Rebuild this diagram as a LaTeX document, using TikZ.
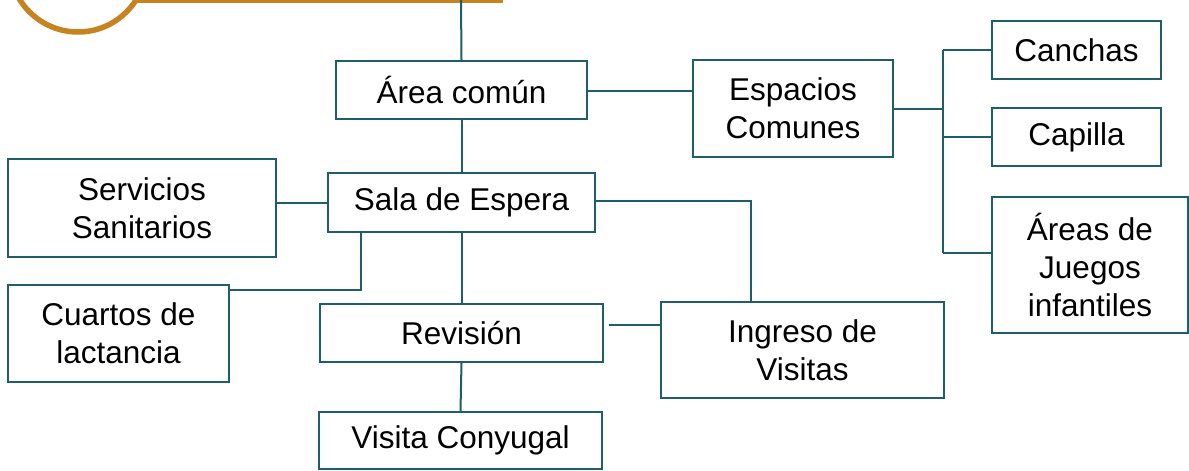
\documentclass[tikz,border=0pt]{standalone}
\usepackage{fontspec}
\setmainfont{Liberation Sans}
\usepackage{xcolor}
\usepackage{tikz}
\usetikzlibrary{positioning, calc}
\definecolor{teal}{HTML}{1D5E68}
\definecolor{ochre}{HTML}{C5841F}

\begin{document}
\begin{tikzpicture}[
  x=1pt, y=-1pt,
  area/.style={rectangle, draw=teal, line width=2pt, align=center, inner sep=0pt, font=\fontsize{31.5}{37.7}\selectfont},
  link/.style={draw=teal, line width=2pt},
  accent/.style={draw=ochre, line width=5.5pt}
]
  \useasboundingbox (0,0) rectangle (1189,471);

  % Top ornament
  \draw[accent] (78,-36.6) circle (68.6);
  \coordinate (top) at (461,0);
  \draw[accent] (136,0.5) -- (503,0.5);

  \node[area, minimum width=251pt, minimum height=58pt] (comun) at (461.5,90) {Área común};
  \node[area, minimum width=200pt, minimum height=97pt] (espacios) at (793,108.5) {Espacios\\Comunes};
  \node[area, minimum width=169pt, minimum height=58pt] (canchas) at (1076.5,50) {Canchas};
  \node[area, minimum width=169pt, minimum height=58pt] (capilla) at (1076.5,137) {Capilla};
  \node[area, minimum width=196pt, minimum height=136pt] (juegos) at (1090,265) {Áreas de\\Juegos\\infantiles};

  \node[area, minimum width=267pt, minimum height=59pt] (sala) at (461.5,202.5) {Sala de Espera};
  \node[area, minimum width=268pt, minimum height=98pt] (servicios) at (142,208) {Servicios\\Sanitarios};
  \node[area, minimum width=221pt, minimum height=97pt] (cuartos) at (118.5,333.5) {Cuartos de\\lactancia};
  \node[area, minimum width=283pt, minimum height=58pt] (revision) at (461.5,333) {Revisión};
  \node[area, minimum width=283pt, minimum height=96pt] (ingreso) at (802.5,350) {Ingreso de\\Visitas};
  \node[area, minimum width=283pt, minimum height=57pt] (conyugal) at (460.5,440.5) {Visita Conyugal};

  \draw[link] (top) -- (comun.north);
  \draw[link] ([yshift=-1pt]comun.east) -- ([yshift=-1pt]comun.east -| espacios.west);

  % Bracket to the right column
  \coordinate (fork) at (943,109);
  \draw[link] (espacios.east |- fork) -- (fork);
  \draw[link] (fork |- canchas.west) -- (fork |- 0,253);
  \draw[link] (fork |- canchas.west) -- (canchas.west);
  \draw[link] (fork |- capilla.west) -- (capilla.west);
  \draw[link] (fork |- 0,253) -- (juegos.west |- 0,253);

  \draw[link] (comun.south) -- (sala.north);
  \draw[link] (sala.west) -- (sala.west -| servicios.east);
  \coordinate (bend) at (361,290);
  \draw[link] (cuartos.east |- bend) -- (bend) -- (bend |- sala.south);
  \draw[link] (sala.east |- 0,201) -| ([xshift=-51.5pt]ingreso.north);
  \draw[link] (sala.south) -- (revision.north);
  \draw[link] ([xshift=5pt, yshift=8pt]revision.east) -- ([yshift=8pt]revision.east -| ingreso.west);
  \draw[link] (revision.south) -- (conyugal.north);
\end{tikzpicture}
\end{document}
